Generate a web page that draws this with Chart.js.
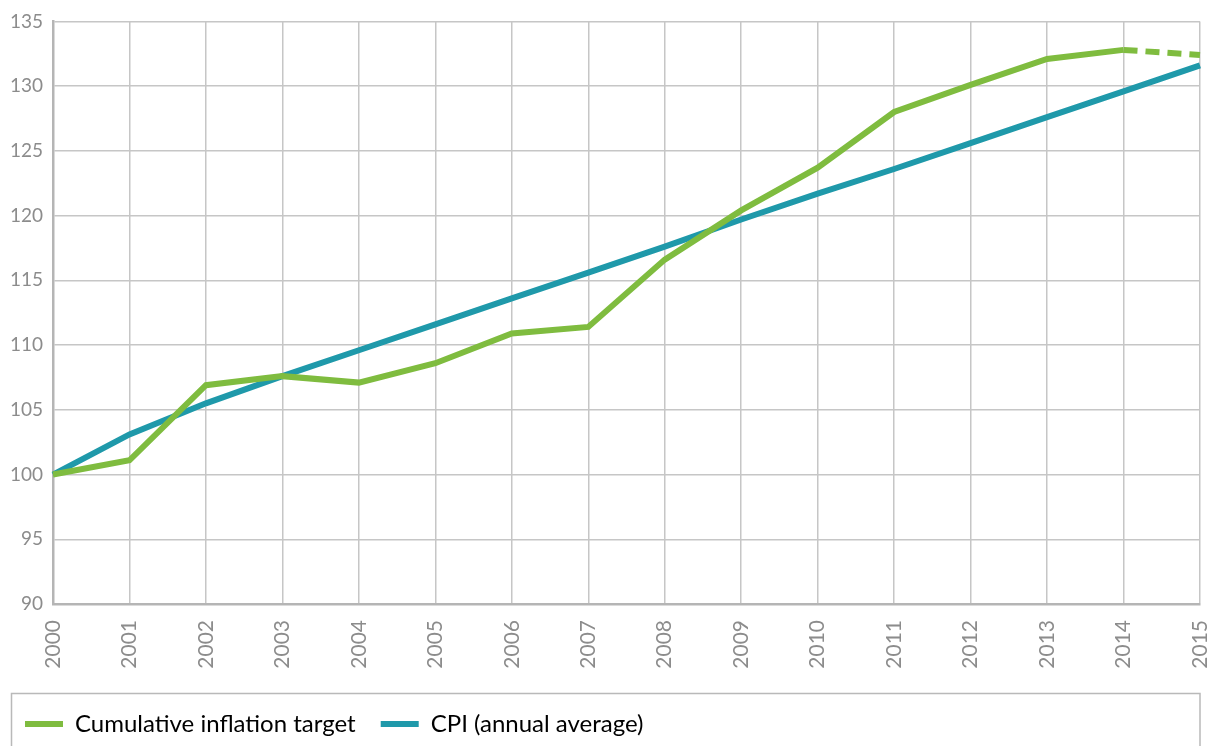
<!DOCTYPE html>
<html>
<head>
<meta charset="utf-8">
<script src="https://cdn.jsdelivr.net/npm/chart.js@4/dist/chart.umd.min.js"></script>
<style>
  html, body { margin: 0; padding: 0; background: #ffffff; }
  #wrap { width: 1212px; height: 746px; }
</style>
</head>
<body>
<div id="wrap"><canvas id="c" width="1212" height="746"></canvas></div>
<script>
// Years on the horizontal axis
const years = ['2000','2001','2002','2003','2004','2005','2006','2007',
               '2008','2009','2010','2011','2012','2013','2014','2015'];

// Cumulative inflation target (index, 2000 = 100); last step is a projection
const inflationTarget = [100, 101.1, 106.9, 107.6, 107.1, 108.6, 110.9, 111.4,
                         116.6, 120.4, 123.7, 128.0, 130.1, 132.1, 132.8, 132.4];

// CPI, annual average (index, 2000 = 100)
const cpiAverage = [100, 103.1, 105.5, 107.6, 109.6, 111.6, 113.6, 115.6,
                    117.6, 119.7, 121.7, 123.6, 125.6, 127.6, 129.6, 131.6];

// Vertical axis range
const yMin = 90, yMax = 135, yStep = 5;

const seriesNames = ['Cumulative inflation target', 'CPI (annual average)'];
const GREEN = '#7fbc3f';
const BLUE = '#1f99aa';
const FONT = 'Lato, "Open Sans", sans-serif';
const TEXT_GREY = '#8c8c8c';

// Frame drawn around the legend row
const legendFrame = {
  id: 'legendFrame',
  afterDraw(chart) {
    const lg = chart.legend;
    if (!lg) return;
    const ctx = chart.ctx;
    ctx.save();
    ctx.strokeStyle = '#b9b9b9';
    ctx.lineWidth = 1.5;
    ctx.strokeRect(11.5, lg.top + 6.5, chart.chartArea.right - 11.5, 100);
    ctx.restore();
  }
};

new Chart(document.getElementById('c'), {
  type: 'line',
  data: {
    labels: years,
    datasets: [
      {
        label: seriesNames[0],
        data: inflationTarget,
        borderColor: GREEN,
        backgroundColor: GREEN,
        borderWidth: 6,
        pointRadius: 0,
        tension: 0,
        segment: {
          borderDash: ctx => ctx.p0DataIndex === inflationTarget.length - 2 ? [14, 8] : undefined
        }
      },
      {
        label: seriesNames[1],
        data: cpiAverage,
        borderColor: BLUE,
        backgroundColor: BLUE,
        borderWidth: 6,
        pointRadius: 0,
        tension: 0
      }
    ]
  },
  options: {
    responsive: false,
    animation: false,
    layout: { padding: { top: 18, right: 12, bottom: 0, left: 0 } },
    plugins: {
      tooltip: { enabled: false },
      legend: {
        position: 'bottom',
        align: 'start',
        labels: {
          boxWidth: 38,
          boxHeight: 6,
          padding: 25,
          color: '#9a9a9a',
          font: { family: FONT, size: 24 },
          generateLabels(chart) {
            return chart.data.datasets.map((ds, i) => ({
              text: ds.label,
              fillStyle: ds.borderColor,
              strokeStyle: ds.borderColor,
              lineWidth: 0,
              hidden: false,
              datasetIndex: i
            }));
          }
        }
      }
    },
    scales: {
      x: {
        grid: { color: '#c6c6c6', lineWidth: 1.5, drawTicks: false, offset: false },
        border: { color: '#b5b5b5', width: 2.5 },
        ticks: {
          color: TEXT_GREY,
          font: { family: FONT, size: 21 },
          minRotation: 90,
          maxRotation: 90,
          padding: 16,
          autoSkip: false
        },
        afterFit(scale) {
          scale.height = 83;
          scale.paddingLeft = 0;
          scale.paddingRight = 0;
        }
      },
      y: {
        min: yMin,
        max: yMax,
        grid: { color: '#c6c6c6', lineWidth: 1.5, drawTicks: false },
        border: { color: '#b5b5b5', width: 2.5 },
        ticks: {
          stepSize: yStep,
          color: TEXT_GREY,
          font: { family: FONT, size: 19 },
          padding: 10
        },
        afterFit(scale) { scale.width = 53; }
      }
    }
  },
  plugins: [legendFrame]
});
</script>
</body>
</html>
